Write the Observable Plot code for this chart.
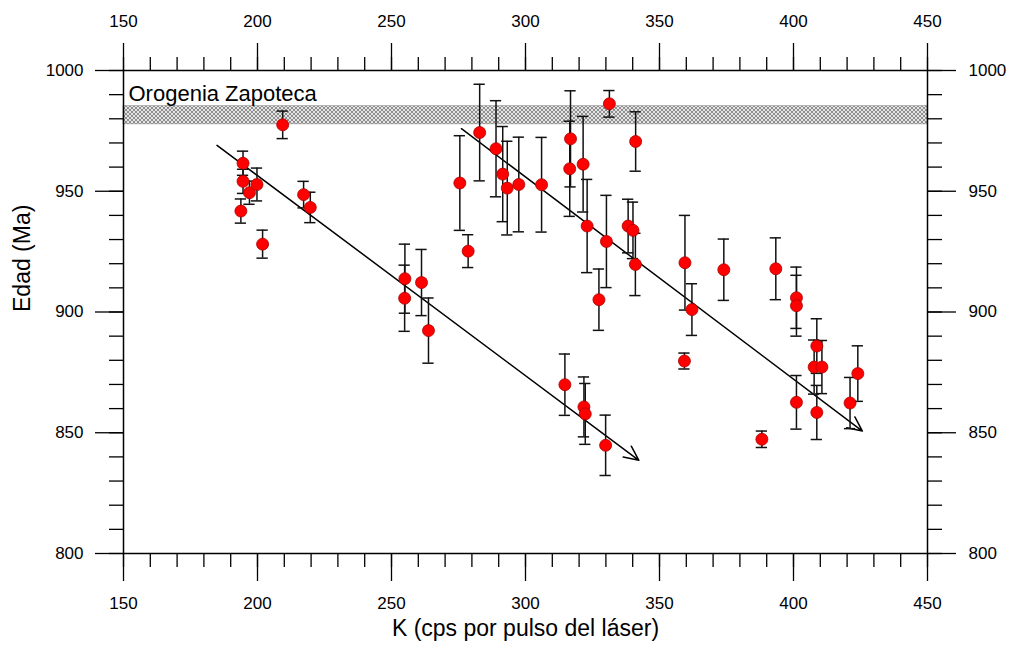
<!DOCTYPE html>
<html>
<head>
<meta charset="utf-8">
<script src="https://cdn.jsdelivr.net/npm/d3@7"></script>
<script src="https://cdn.jsdelivr.net/npm/@observablehq/plot@0.6"></script>
<style>
  body { margin: 0; background: white; }
  #chart svg { display: block; }
</style>
</head>
<body>
<div id="chart"></div>
<script>
// K (cps per laser pulse)
const kVals = [
  209.4, 194.6, 194.6, 197.0, 199.8, 193.8, 201.9, 217.2, 219.7,
  255.0, 254.9, 261.2, 263.8,
  275.5, 278.6, 282.9, 289.0, 291.5, 293.2, 297.5, 306.0,
  316.8, 316.5, 321.5, 323.0, 330.2, 331.3, 341.1, 338.3, 340.1, 341.0, 327.4,
  359.5, 362.1, 359.3, 374.0, 393.4, 401.1, 401.1, 408.7, 407.7, 410.6,
  401.1, 408.7, 388.2, 421.1, 424.0,
  314.7, 321.8, 322.3, 329.9
];
// Edad (Ma)
const ageVals = [
  977.5, 961.6, 954.1, 949.4, 952.8, 941.8, 928.1, 948.6, 943.3,
  913.8, 905.7, 912.2, 892.3,
  953.4, 925.2, 974.3, 967.6, 957.1, 951.3, 952.8, 952.7,
  971.7, 959.3, 961.2, 935.6, 929.2, 986.2, 970.6, 935.6, 933.8, 919.7, 905.1,
  920.4, 901.0, 879.7, 917.5, 917.9, 905.9, 902.6, 885.9, 877.2, 877.2,
  862.6, 858.4, 847.3, 862.3, 874.5,
  869.9, 860.7, 857.8, 844.8
];
// error (± Ma)
const errVals = [
  5.7, 5.0, 5.0, 4.8, 6.8, 5.0, 5.8, 5.5, 6.3,
  14.3, 13.7, 13.7, 13.5,
  19.6, 6.8, 20.0, 19.9, 19.7, 19.4, 19.6, 19.6,
  19.9, 19.7, 19.8, 19.3, 19.1, 5.5, 12.3, 11.1, 11.7, 12.9, 12.7,
  19.6, 10.7, 3.3, 12.7, 12.8, 12.7, 12.6, 11.3, 11.2, 11.0,
  11.1, 11.2, 3.4, 10.6, 11.5,
  12.7, 12.4, 12.6, 12.5
];

// trend arrows: start and end points (K, Ma)
const arrowStarts = [[184.9, 969.0], [276.1, 975.9]];
const arrowEnds = [[342.3, 838.6], [425.7, 850.7]];

// Zapotec orogeny band
const bandLabel = "Orogenia Zapoteca";
const bandLow = 977.7;
const bandHigh = 985.2;

const xMajorTicks = [150, 200, 250, 300, 350, 400, 450];
const xMinorTicks = d3.range(150, 451, 10);
const yMajorTicks = [800, 850, 900, 950, 1000];
const yMinorTicks = d3.range(800, 1001, 10);

const xTitle = "K (cps por pulso del láser)";
const yTitle = "Edad (Ma)";

const data = kVals.map((k, i) => ({k, age: ageVals[i], err: errVals[i]}));
const arrows = arrowStarts.map((s, i) => ({x1: s[0], y1: s[1], x2: arrowEnds[i][0], y2: arrowEnds[i][1]}));
const capHalf = 2.1;

const tickStyle = {strokeWidth: 1.3, fontSize: 17, label: null};
const fmt = d3.format("d");

const svg = Plot.plot({
  width: 1014,
  height: 645,
  marginLeft: 123,
  marginRight: 87,
  marginTop: 70,
  marginBottom: 92,
  x: {domain: [150, 450]},
  y: {domain: [800, 1000]},
  style: {fontFamily: "'Liberation Sans', Arial, sans-serif", background: "white", color: "black"},
  marks: [
    Plot.rect([{lo: bandLow, hi: bandHigh}], {x1: 150, x2: 450, y1: "lo", y2: "hi", fill: "url(#hatch)", stroke: "#888", strokeWidth: 0.6}),
    Plot.text([bandLabel], {x: 150, y: bandHigh + 2.1, dx: 5, text: d => d, textAnchor: "start", lineAnchor: "bottom", fontSize: 22, fill: "black"}),
    // minor ticks
    Plot.axisX({anchor: "bottom", ticks: xMinorTicks, tickSize: 14, tickFormat: () => "", ...tickStyle}),
    Plot.axisX({anchor: "top", ticks: xMinorTicks, tickSize: 14, tickFormat: () => "", ...tickStyle}),
    Plot.axisY({anchor: "left", ticks: yMinorTicks, tickSize: 14, tickFormat: () => "", ...tickStyle}),
    Plot.axisY({anchor: "right", ticks: yMinorTicks, tickSize: 14, tickFormat: () => "", ...tickStyle}),
    // major ticks
    Plot.axisX({anchor: "bottom", ticks: xMajorTicks, tickSize: 28, tickPadding: 15, tickFormat: fmt, ...tickStyle}),
    Plot.axisX({anchor: "top", ticks: xMajorTicks, tickSize: 28, tickPadding: 16, tickFormat: fmt, ...tickStyle}),
    Plot.axisY({anchor: "left", ticks: yMajorTicks, tickSize: 28, tickPadding: 12, tickFormat: fmt, ...tickStyle}),
    Plot.axisY({anchor: "right", ticks: yMajorTicks, tickSize: 28, tickPadding: 13, tickFormat: fmt, ...tickStyle}),
    Plot.frame({stroke: "black", strokeWidth: 1.5}),
    // arrows
    Plot.arrow(arrows, {x1: "x1", y1: "y1", x2: "x2", y2: "y2", stroke: "black", strokeWidth: 1.5, headLength: 16, headAngle: 50}),
    // error bars
    Plot.ruleX(data, {x: "k", y1: d => d.age - d.err, y2: d => d.age + d.err, stroke: "#111", strokeWidth: 1.5}),
    Plot.ruleY(data, {y: d => d.age + d.err, x1: d => d.k - capHalf, x2: d => d.k + capHalf, stroke: "#111", strokeWidth: 1.5}),
    Plot.ruleY(data, {y: d => d.age - d.err, x1: d => d.k - capHalf, x2: d => d.k + capHalf, stroke: "#111", strokeWidth: 1.5}),
    Plot.dot(data, {x: "k", y: "age", r: 6, fill: "#ff0000", stroke: "#a80000", strokeWidth: 0.8}),
    // axis titles
    Plot.text([xTitle], {frameAnchor: "bottom", dy: 82, text: d => d, fontSize: 23, fill: "black"}),
    Plot.text([yTitle], {frameAnchor: "left", dx: -101, rotate: -90, text: d => d, fontSize: 23, fill: "black"})
  ]
});

const ns = "http://www.w3.org/2000/svg";
const defs = document.createElementNS(ns, "defs");
defs.innerHTML = `
  <pattern id="hatch" patternUnits="userSpaceOnUse" width="4" height="4">
    <rect width="4" height="4" fill="#e4e4e4"></rect>
    <path d="M-1,1 L1,-1 M0,4 L4,0 M3,5 L5,3" stroke="#6a6a6a" stroke-width="0.7"></path>
    <path d="M-1,3 L1,5 M0,0 L4,4 M3,-1 L5,1" stroke="#6a6a6a" stroke-width="0.7"></path>
  </pattern>`;
svg.insertBefore(defs, svg.firstChild);
document.getElementById("chart").appendChild(svg);
</script>
</body>
</html>
